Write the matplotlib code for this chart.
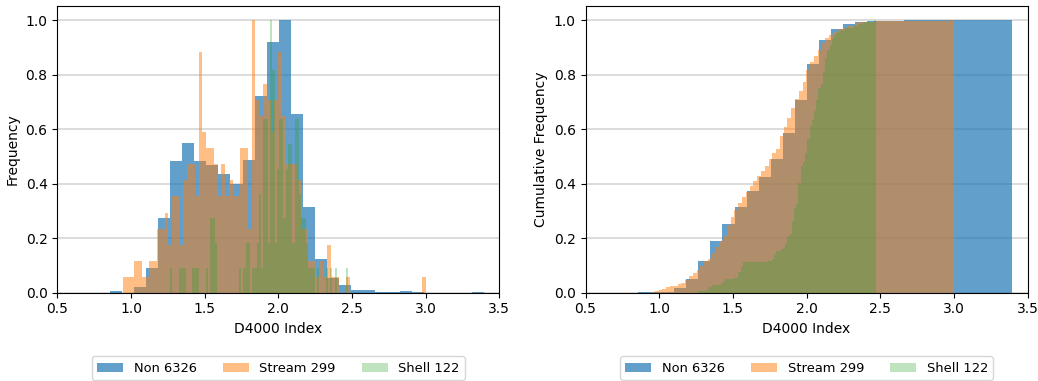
import numpy as np
import matplotlib
matplotlib.use("Agg")
from matplotlib import pyplot as plt

# D4000 histograms for the three samples, bar heights scaled so the tallest bin is 1
non_range = (0.855, 3.397)
non_heights = [0.006, 0.0, 0.02, 0.09, 0.275, 0.483, 0.55, 0.483, 0.47, 0.437,
               0.40, 0.487, 0.72, 0.92, 1.0, 0.654, 0.313, 0.125, 0.055, 0.028,
               0.01, 0.01, 0.002, 0.001, 0.006, 0.001, 0.0, 0.0, 0.0, 0.0, 0.001]

stream_range = (0.945, 3.001)
stream_counts = [1, 1, 1, 2, 2, 1, 1, 2, 2, 4,
                 4, 5, 3, 6, 6, 3, 7, 8, 8, 6,
                 15, 10, 9, 9, 8, 6, 8, 6, 7, 6,
                 6, 9, 9, 4, 17, 12, 11, 13, 12, 10,
                 12, 15, 11, 8, 8, 8, 7, 4, 4, 2,
                 2, 1, 2, 1, 3, 1, 1, 0, 0, 1,
                 0, 0, 0, 0, 0, 0, 0, 0, 0, 0,
                 0, 0, 0, 0, 0, 0, 0, 0, 0, 1]

shell_range = (1.265, 2.473)
shell_counts = [1, 0, 0, 0, 1, 1, 1, 0, 0, 0,
                1, 1, 1, 0, 0, 0, 1, 0, 3, 3,
                2, 0, 0, 0, 0, 0, 0, 0, 0, 0,
                0, 1, 0, 1, 2, 2, 0, 1, 1, 2,
                4, 1, 7, 7, 2, 11, 9, 2, 5, 7,
                7, 3, 5, 6, 6, 2, 7, 7, 4, 3,
                3, 2, 1, 1, 1, 0, 1, 0, 0, 0,
                1, 0, 1, 0, 1, 0, 0, 0, 0, 1]

labels = ["Non 6326", "Stream 299", "Shell 122"]
colors = ["tab:blue", "tab:orange", "tab:green"]
alphas = [0.7, 0.5, 0.3]


def centres(rng, n):
    edges = np.linspace(rng[0], rng[1], n + 1)
    return (edges[:-1] + edges[1:]) / 2


samples = []
for rng, vals in [(non_range, non_heights), (stream_range, stream_counts), (shell_range, shell_counts)]:
    vals = np.asarray(vals, dtype=float)
    samples.append((rng, vals / vals.max()))

fig, (ax1, ax2) = plt.subplots(1, 2, figsize=(10.38, 3.81), dpi=100)
plt.subplots_adjust(left=0.0552, right=0.990, bottom=0.2318, top=0.983, wspace=0.195)

for (rng, w), lab, col, a in zip(samples, labels, colors, alphas):
    n = len(w)
    ax1.hist(centres(rng, n), bins=n, range=rng, weights=w, color=col, alpha=a, label=lab)
    ax2.hist(centres(rng, n), bins=n, range=rng, weights=w, density=True, cumulative=True,
             color=col, alpha=a, label=lab)

for ax in (ax1, ax2):
    ax.set_xlim(0.5, 3.5)
    ax.set_xticks(np.arange(0.5, 3.51, 0.5))
    ax.set_yticks(np.arange(0, 1.01, 0.2))
    ax.yaxis.grid(True, color="#d5d5d5", linewidth=1.2)
    ax.set_axisbelow(True)
    ax.set_xlabel("D4000 Index")
    ax.legend(loc="upper center", bbox_to_anchor=(0.5, -0.2), ncol=3, fontsize=9.4)

ax1.set_ylabel("Frequency")
ax2.set_ylabel("Cumulative Frequency")

plt.savefig("out.png", dpi=100)
